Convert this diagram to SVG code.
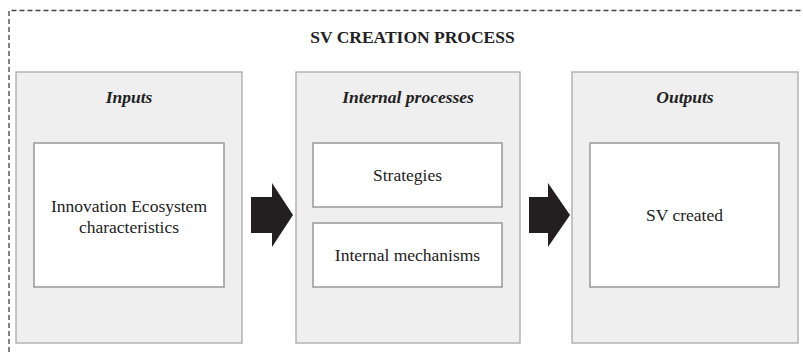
<svg xmlns="http://www.w3.org/2000/svg" width="803" height="352" viewBox="0 0 803 352">
<defs>
<style>
.frame{fill:none;stroke:#444;stroke-width:1.3;stroke-dasharray:5 3}
.outer{fill:#efefef;stroke:#a8a8a8;stroke-width:1.3}
.inner{fill:#fff;stroke:#999;stroke-width:1.5}
text{font-family:'Liberation Serif','Times New Roman',Times,serif;font-size:17.5px;fill:#222;text-anchor:middle}
.title{font-weight:bold}
.head{font-weight:bold;font-style:italic}
.arrow{fill:#231f20}
</style>
</defs>
<rect width="803" height="352" fill="#fff"/>
<path class="frame" d="M9,352 V10.5 H803"/>
<text class="title" x="412.5" y="43" font-family="Liberation Serif, serif">SV CREATION PROCESS</text>
<g id="inputs">
<rect class="outer" x="16" y="72" width="226" height="271"/>
<text class="head" x="129" y="103" font-family="Liberation Serif, serif">Inputs</text>
<g id="ie-characteristics">
<rect class="inner" x="34" y="143" width="190" height="144"/>
<text class="lbl" x="129" y="212" font-family="Liberation Serif, serif">Innovation Ecosystem</text>
<text class="lbl" x="129" y="233" font-family="Liberation Serif, serif">characteristics</text>
</g>
</g>
<g id="internal-processes">
<rect class="outer" x="296" y="72" width="224" height="271"/>
<text class="head" x="408" y="103" font-family="Liberation Serif, serif">Internal processes</text>
<g id="strategies">
<rect class="inner" x="313" y="143" width="189" height="64"/>
<text class="lbl" x="407.5" y="181" font-family="Liberation Serif, serif">Strategies</text>
</g>
<g id="internal-mechanisms">
<rect class="inner" x="313" y="223" width="189" height="64"/>
<text class="lbl" x="407.5" y="261" font-family="Liberation Serif, serif">Internal mechanisms</text>
</g>
</g>
<g id="outputs">
<rect class="outer" x="572" y="72" width="226" height="271"/>
<text class="head" x="685" y="103" font-family="Liberation Serif, serif">Outputs</text>
<g id="sv-created">
<rect class="inner" x="590" y="143" width="189" height="144"/>
<text class="lbl" x="684.5" y="221" font-family="Liberation Serif, serif">SV created</text>
</g>
</g>
<g id="connectors">
<polygon class="arrow" points="251,197 272,197 272,183 293,215 272,247 272,233 251,233"/>
<polygon class="arrow" points="529,197 548,197 548,183 570,215 548,247 548,233 529,233"/>
</g>
</svg>
